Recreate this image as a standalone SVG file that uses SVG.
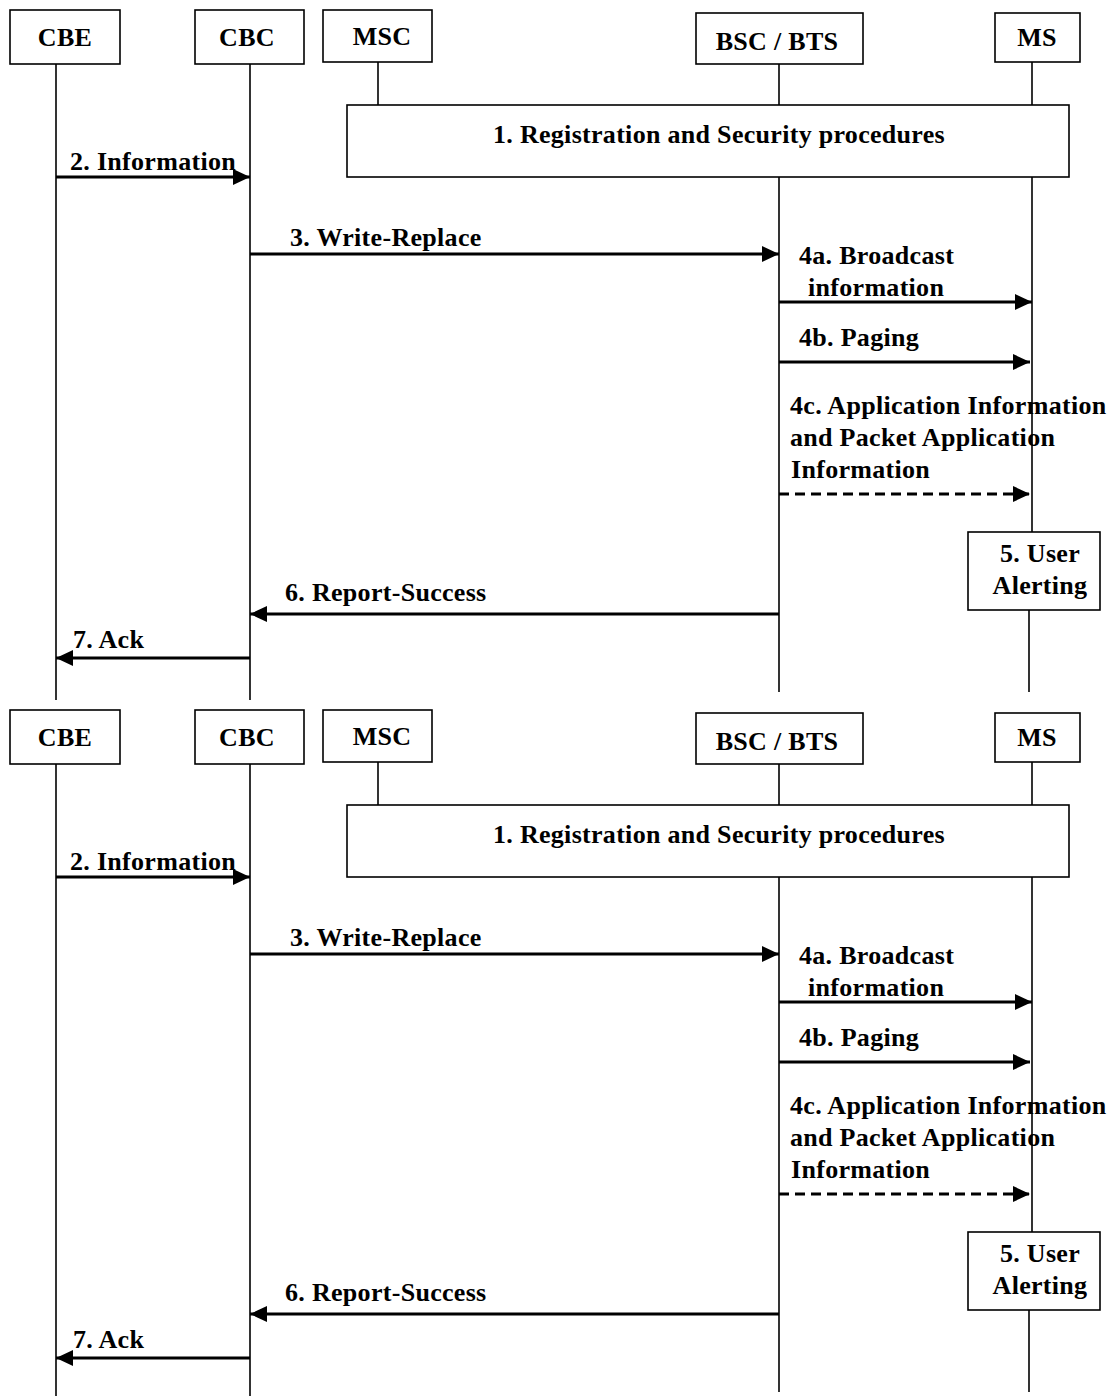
<svg xmlns="http://www.w3.org/2000/svg" width="1111" height="1396" viewBox="0 0 1111 1396">
<style>
text{font-family:"Liberation Serif","Times New Roman",serif;font-weight:bold;font-size:26px;letter-spacing:0.3px;fill:#000}
.box{fill:#fff;stroke:#000;stroke-width:1.6}
.life{stroke:#000;stroke-width:1.6;fill:none}
.msg{stroke:#000;stroke-width:3;fill:none;marker-end:url(#ah)}
.dash{stroke-dasharray:10 6}
.c{text-anchor:middle}
</style>
<defs>
<marker id="ah" markerUnits="userSpaceOnUse" markerWidth="18" markerHeight="16" refX="17" refY="8" orient="auto">
<path d="M0,0 L17,8 L0,16 Z" fill="#000"/>
</marker>
</defs>

<!-- ===== Top diagram ===== -->
<g id="lifelines-top" class="life">
<line x1="56" y1="64" x2="56" y2="700"/>
<line x1="250" y1="64" x2="250" y2="700"/>
<line x1="378" y1="62" x2="378" y2="105"/>
<line x1="779" y1="64" x2="779" y2="105"/>
<line x1="779" y1="177" x2="779" y2="692"/>
<line x1="1032" y1="62" x2="1032" y2="105"/>
<line x1="1032" y1="177" x2="1032" y2="532"/>
<line x1="1029" y1="610" x2="1029" y2="692"/>
</g>
<g id="cbe-top"><rect class="box" x="10" y="10" width="110" height="54"/><text class="c" x="65" y="46">CBE</text></g>
<g id="cbc-top"><rect class="box" x="195" y="10" width="109" height="54"/><text class="c" x="247" y="46">CBC</text></g>
<g id="msc-top"><rect class="box" x="323" y="10" width="109" height="52"/><text class="c" x="382" y="45">MSC</text></g>
<g id="bsc-top"><rect class="box" x="696" y="13" width="167" height="51"/><text class="c" x="777" y="50">BSC / BTS</text></g>
<g id="ms-top"><rect class="box" x="995" y="13" width="85" height="49"/><text class="c" x="1037" y="46">MS</text></g>
<g id="reg-top"><rect class="box" x="347" y="105" width="722" height="72"/><text class="c" x="719" y="143">1. Registration and Security procedures</text></g>
<g id="alert-top"><rect class="box" x="968" y="532" width="132" height="78"/><text class="c" x="1040" y="562">5. User</text><text class="c" x="1040" y="594">Alerting</text></g>
<g id="connectors-top">
<line class="msg" x1="56" y1="177" x2="250" y2="177"/>
<text x="70" y="170">2. Information</text>
<line class="msg" x1="250" y1="254" x2="779" y2="254"/>
<text x="290" y="246">3. Write-Replace</text>
<line class="msg" x1="779" y1="302" x2="1032" y2="302"/>
<text x="799" y="264">4a. Broadcast</text>
<text x="808" y="296">information</text>
<line class="msg" x1="779" y1="362" x2="1030" y2="362"/>
<text x="799" y="346">4b. Paging</text>
<line class="msg dash" x1="779" y1="494" x2="1030" y2="494"/>
<text x="790" y="414">4c. Application Information</text>
<text x="790" y="446">and Packet Application</text>
<text x="791" y="478">Information</text>
<line class="msg" x1="779" y1="614" x2="250" y2="614"/>
<text x="285" y="601">6. Report-Success</text>
<line class="msg" x1="250" y1="658" x2="56" y2="658"/>
<text x="73" y="648">7. Ack</text>
</g>

<!-- ===== Bottom diagram ===== -->
<g id="lifelines-bottom" class="life">
<line x1="56" y1="764" x2="56" y2="1396"/>
<line x1="250" y1="764" x2="250" y2="1396"/>
<line x1="378" y1="762" x2="378" y2="805"/>
<line x1="779" y1="764" x2="779" y2="805"/>
<line x1="779" y1="877" x2="779" y2="1392"/>
<line x1="1032" y1="762" x2="1032" y2="805"/>
<line x1="1032" y1="877" x2="1032" y2="1232"/>
<line x1="1029" y1="1310" x2="1029" y2="1392"/>
</g>
<g id="cbe-bottom"><rect class="box" x="10" y="710" width="110" height="54"/><text class="c" x="65" y="746">CBE</text></g>
<g id="cbc-bottom"><rect class="box" x="195" y="710" width="109" height="54"/><text class="c" x="247" y="746">CBC</text></g>
<g id="msc-bottom"><rect class="box" x="323" y="710" width="109" height="52"/><text class="c" x="382" y="745">MSC</text></g>
<g id="bsc-bottom"><rect class="box" x="696" y="713" width="167" height="51"/><text class="c" x="777" y="750">BSC / BTS</text></g>
<g id="ms-bottom"><rect class="box" x="995" y="713" width="85" height="49"/><text class="c" x="1037" y="746">MS</text></g>
<g id="reg-bottom"><rect class="box" x="347" y="805" width="722" height="72"/><text class="c" x="719" y="843">1. Registration and Security procedures</text></g>
<g id="alert-bottom"><rect class="box" x="968" y="1232" width="132" height="78"/><text class="c" x="1040" y="1262">5. User</text><text class="c" x="1040" y="1294">Alerting</text></g>
<g id="connectors-bottom">
<line class="msg" x1="56" y1="877" x2="250" y2="877"/>
<text x="70" y="870">2. Information</text>
<line class="msg" x1="250" y1="954" x2="779" y2="954"/>
<text x="290" y="946">3. Write-Replace</text>
<line class="msg" x1="779" y1="1002" x2="1032" y2="1002"/>
<text x="799" y="964">4a. Broadcast</text>
<text x="808" y="996">information</text>
<line class="msg" x1="779" y1="1062" x2="1030" y2="1062"/>
<text x="799" y="1046">4b. Paging</text>
<line class="msg dash" x1="779" y1="1194" x2="1030" y2="1194"/>
<text x="790" y="1114">4c. Application Information</text>
<text x="790" y="1146">and Packet Application</text>
<text x="791" y="1178">Information</text>
<line class="msg" x1="779" y1="1314" x2="250" y2="1314"/>
<text x="285" y="1301">6. Report-Success</text>
<line class="msg" x1="250" y1="1358" x2="56" y2="1358"/>
<text x="73" y="1348">7. Ack</text>
</g>
</svg>
